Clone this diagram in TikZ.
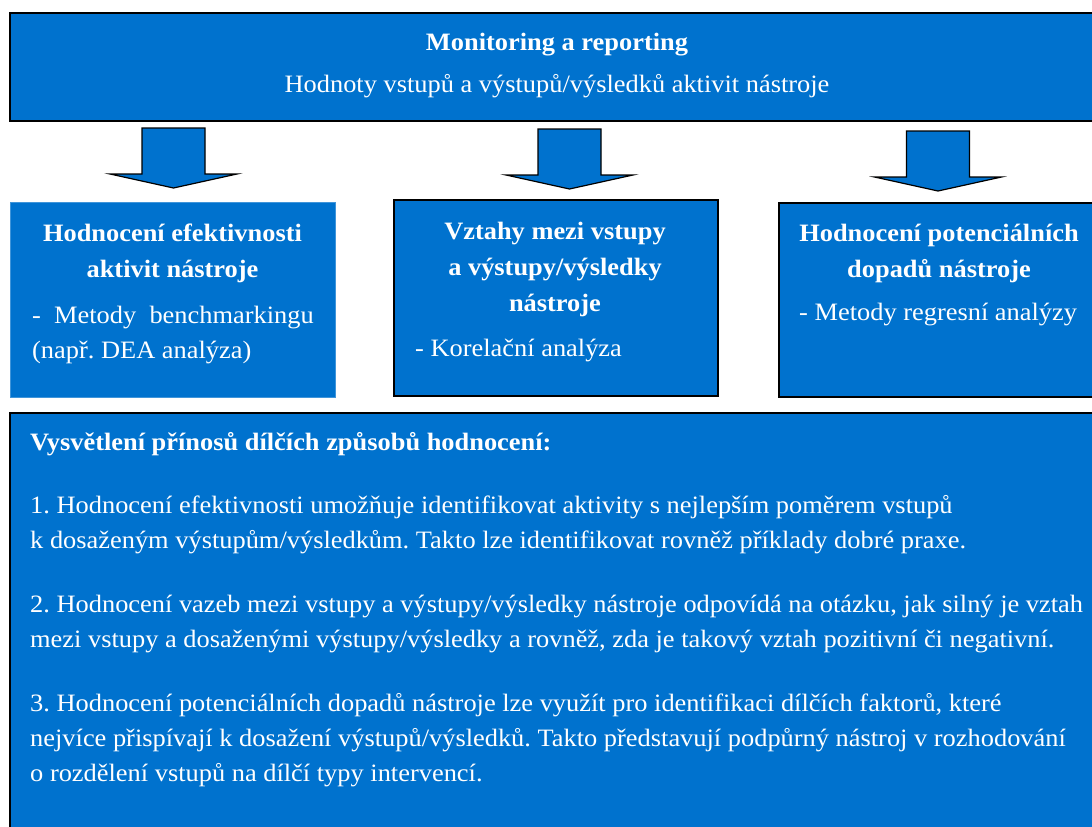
\documentclass[tikz,border=0pt]{standalone}
\usepackage{fontspec}
\setmainfont{Liberation Serif}[FakeStretch=1.056]
\usepackage{xcolor}
\usetikzlibrary{positioning}
\definecolor{boxblue}{RGB}{0,114,206}
\frenchspacing

\begin{document}
\begin{tikzpicture}[x=1pt,y=-1pt,
    panel/.style={draw=black, line width=1.6pt, fill=boxblue, inner sep=0pt},
    flatpanel/.style={fill=boxblue, draw=boxblue!75!white, line width=0.8pt, inner sep=0pt},
    txt/.style={text=white, inner sep=0pt, align=left, font=\fontsize{25}{35}\selectfont},
    headtxt/.style={text=white, inner sep=0pt, align=center, font=\fontsize{25}{36}\selectfont\bfseries},
    blockarrow/.style={draw=black, line width=1.2pt, fill=boxblue, line join=miter}]
  \useasboundingbox (0,0) rectangle (1092,827);
  \clip (0,0) rectangle (1092,827);

  % Monitoring a reporting
  \node[panel, anchor=north west, minimum width=1100, minimum height=108] (monitor) at (9,12) {};
  \node[headtxt, anchor=base] (montitle) at (557,50) {Monitoring a reporting};
  \node[txt, anchor=base] (monsub) at (557,92) {Hodnoty vstupů a výstupů/výsledků aktivit nástroje};

  % block arrows
  \foreach \cx/\ty in {173.5/128, 569.5/129, 938/131} {
    \draw[blockarrow] (\cx-31.5,\ty) -- (\cx+31.5,\ty) -- (\cx+31.5,\ty+46)
      -- (\cx+63.5,\ty+46) -- (\cx,\ty+60) -- (\cx-63.5,\ty+46) -- (\cx-31.5,\ty+46) -- cycle;
  }

  % three evaluation boxes (base = last line)
  \node[flatpanel, anchor=north west, minimum width=325, minimum height=195] (effic) at (10,202) {};
  \node[panel, anchor=north west, minimum width=324, minimum height=196] (links) at (393,199) {};
  \node[panel, anchor=north west, minimum width=322, minimum height=194] (impact) at (778,202) {};

  \node[headtxt, anchor=base] (effictitle) at (172.5,277) {Hodnocení efektivnosti\\aktivit nástroje};
  \node[txt, anchor=base west] (efficmeth) at (32,358) {-\ \ Metody\ \ benchmarkingu\\(např. DEA analýza)};

  \node[headtxt, anchor=base] (linkstitle) at (555,311) {Vztahy mezi vstupy\\a výstupy/výsledky\\nástroje};
  \node[txt, anchor=base west] (linksmeth) at (415,356) {- Korelační analýza};

  \node[headtxt, anchor=base] (impacttitle) at (939,277) {Hodnocení potenciálních\\dopadů nástroje};
  \node[txt, anchor=base west] (impactmeth) at (799,320) {- Metody regresní analýzy};

  % explanation
  \node[panel, anchor=north west, minimum width=1100, minimum height=430] (explain) at (9,412) {};
  \node[headtxt, anchor=base west] (explhead) at (30,450) {Vysvětlení přínosů dílčích způsobů hodnocení:};
  \node[txt, anchor=base west] (expl1) at (30,548) {1. Hodnocení efektivnosti umožňuje identifikovat aktivity s nejlepším poměrem vstupů\\k dosaženým výstupům/výsledkům. Takto lze identifikovat rovněž příklady dobré praxe.};
  \node[txt, anchor=base west] (expl2) at (30,647) {2. Hodnocení vazeb mezi vstupy a výstupy/výsledky nástroje odpovídá na otázku, jak silný je vztah\\mezi vstupy a dosaženými výstupy/výsledky a rovněž, zda je takový vztah pozitivní či negativní.};
  \node[txt, anchor=base west] (expl3) at (30,781) {3. Hodnocení potenciálních dopadů nástroje lze využít pro identifikaci dílčích faktorů, které\\nejvíce přispívají k dosažení výstupů/výsledků. Takto představují podpůrný nástroj v rozhodování\\o rozdělení vstupů na dílčí typy intervencí.};
\end{tikzpicture}
\end{document}
